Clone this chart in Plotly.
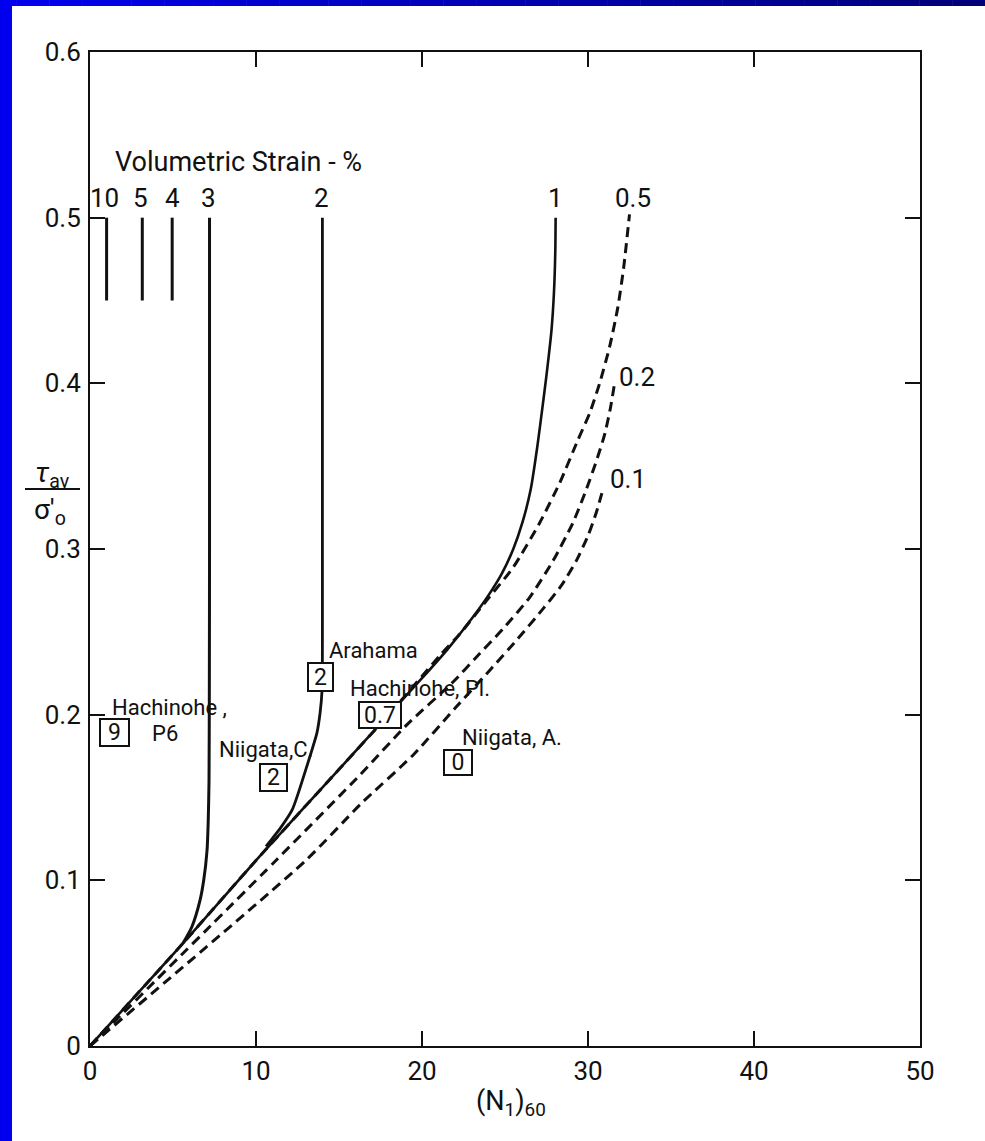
import plotly.graph_objects as go

# ---------------- data ----------------
# x axis: (N1)60, y axis: tau_av / sigma'_o
x_ticks = [0, 10, 20, 30, 40, 50]
x_tick_text = ["0", "10", "20", "30", "40", "50"]
y_ticks = [0, 0.1, 0.2, 0.3, 0.4, 0.5, 0.6]
y_tick_text = ["0", "0.1", "0.2", "0.3", "0.4", "0.5", "0.6"]

# short vertical strain markers (10 %, 5 %, 4 %)
short_labels = ["10", "5", "4"]
short_x = [1.0, 3.15, 4.95]
short_y = [0.45, 0.50]

# 3 % curve
c3_x = [7.2, 7.2, 7.19, 7.17, 7.12, 7.05, 6.85, 6.63, 6.14, 5.6]
c3_y = [0.50, 0.30, 0.22, 0.16, 0.135, 0.118, 0.100, 0.088, 0.072, 0.062]

# 2 % curve
c2_x = [14.0, 14.0, 14.0, 13.98, 13.86, 13.67, 13.13, 12.2, 11.5, 11.0, 10.6]
c2_y = [0.50, 0.30, 0.24, 0.215, 0.201, 0.189, 0.171, 0.143, 0.132, 0.1255, 0.1205]

# 1 % curve (solid)
c1_x = [0, 5.6, 10, 15, 18, 20, 21.5, 23.0, 24.0, 24.8, 25.5, 26.05, 26.55, 26.95, 27.25, 27.5, 27.8, 27.95, 28.03, 28.05]
c1_y = [0, 0.062, 0.112, 0.167, 0.200, 0.222, 0.239, 0.258, 0.272, 0.285, 0.300, 0.316, 0.336, 0.362, 0.385, 0.405, 0.432, 0.455, 0.480, 0.500]

# 0.5 % curve (dashed)
d05_x = [0, 5.6, 10, 15, 18, 21.1, 22.3, 23.9, 25.5, 27.1, 28.3, 29.4, 30.1, 30.7, 31.3, 31.8, 32.15, 32.5]
d05_y = [0, 0.062, 0.112, 0.167, 0.200, 0.236, 0.249, 0.269, 0.289, 0.316, 0.340, 0.366, 0.382, 0.400, 0.422, 0.446, 0.470, 0.502]

# 0.2 % curve (dashed)
d02_x = [0, 11.2, 16.3, 19.1, 21.9, 23.3, 24.9, 26.5, 27.9, 29.1, 29.9, 30.5, 31.0, 31.35, 31.6]
d02_y = [0, 0.112, 0.164, 0.194, 0.220, 0.235, 0.252, 0.271, 0.293, 0.316, 0.336, 0.353, 0.369, 0.385, 0.400]

# 0.1 % curve (dashed)
d01_x = [0, 13.0, 16.3, 19.5, 22.0, 24.1, 25.7, 27.3, 28.4, 29.3, 30.0, 30.5, 30.9]
d01_y = [0, 0.112, 0.146, 0.176, 0.204, 0.227, 0.245, 0.264, 0.278, 0.293, 0.308, 0.322, 0.336]

# curve labels (text, x, y)
curve_label_text = ["10", "5", "4", "3", "2", "1", "0.5", "0.2", "0.1"]
curve_label_x = [0.9, 3.05, 4.95, 7.15, 13.95, 28.05, 32.7, 31.75, 31.2]
curve_label_y = [0.512, 0.512, 0.512, 0.512, 0.512, 0.512, 0.512, 0.404, 0.342]
curve_label_anchor = ["center"] * 7 + ["left", "left"]

# case-history sites: boxed value, box position, site name and its position
site_values = ["9", "2", "2", "0.7", "0"]
site_box_x = [1.48, 11.08, 13.86, 17.47, 22.17]
site_box_y = [0.189, 0.162, 0.223, 0.200, 0.171]
site_names = ["Hachinohe ,", "Niigata,C.", "Arahama", "Hachinohe, Pl.", "Niigata, A."]
site_name_x = [1.2, 7.65, 14.28, 15.54, 22.3]
site_name_y = [0.2046, 0.1787, 0.239, 0.216, 0.1865]
extra_text = ["P6"]
extra_x = [3.6]
extra_y = [0.1885]

title_text = "Volumetric Strain - %"
title_x = 1.39
title_y = 0.5336

# ---------------- figure ----------------
FONT = "Roboto"
INK = "#111111"

fig = go.Figure()

for i, xv in enumerate(short_x):
    fig.add_trace(go.Scatter(x=[xv, xv], y=short_y, mode="lines",
                             line=dict(color=INK, width=3), hoverinfo="skip"))

def add_curve(xs, ys, dash=None, width=2.6):
    fig.add_trace(go.Scatter(x=xs, y=ys, mode="lines",
                             line=dict(color=INK, width=width, dash=dash,
                                       shape="spline", smoothing=0.6),
                             hoverinfo="skip"))

add_curve(c3_x, c3_y, width=3)
add_curve(c2_x, c2_y, width=2.8)
add_curve(c1_x, c1_y, width=2.6)
add_curve(d05_x, d05_y, dash="10px,6px", width=3)
add_curve(d02_x, d02_y, dash="10px,6px", width=3)
add_curve(d01_x, d01_y, dash="10px,6px", width=3)

ann = []
ann.append(dict(x=title_x, y=title_y, xref="x", yref="y", text=title_text,
                showarrow=False, xanchor="left", yanchor="middle",
                font=dict(family=FONT, size=27, color=INK)))
for t, xv, yv, a in zip(curve_label_text, curve_label_x, curve_label_y, curve_label_anchor):
    ann.append(dict(x=xv, y=yv, xref="x", yref="y", text=t, showarrow=False,
                    xanchor=a, yanchor="middle",
                    font=dict(family=FONT, size=26, color=INK)))
box_w = [27, 25, 23, 40, 26]
box_h = [25, 25, 26, 24, 23]
for t, xv, yv, w, h in zip(site_values, site_box_x, site_box_y, box_w, box_h):
    ann.append(dict(x=xv, y=yv, xref="x", yref="y", text=t, showarrow=False,
                    xanchor="center", yanchor="middle", bgcolor="white",
                    bordercolor=INK, borderwidth=2, borderpad=0,
                    width=w, height=h, align="center", valign="middle",
                    font=dict(family=FONT, size=23, color=INK)))
for t, xv, yv in zip(site_names + extra_text, site_name_x + extra_x, site_name_y + extra_y):
    ann.append(dict(x=xv, y=yv, xref="x", yref="y", text=t, showarrow=False,
                    xanchor="left", yanchor="middle",
                    font=dict(family=FONT, size=22, color=INK)))

# axis titles (paper coordinates; plot area is 830 x 994 px)
def px_x(p):
    return (p - 90) / 830.0

def px_y(p):
    return (1046 - p) / 994.0

ann.append(dict(x=px_x(52), y=px_y(474), xref="paper", yref="paper",
                text="<i>τ</i><sub>av</sub>", showarrow=False,
                xanchor="center", yanchor="middle",
                font=dict(family=FONT, size=28, color=INK)))
ann.append(dict(x=px_x(50), y=px_y(511), xref="paper", yref="paper",
                text="σ′<sub>o</sub>", showarrow=False,
                xanchor="center", yanchor="middle",
                font=dict(family=FONT, size=28, color=INK)))
ann.append(dict(x=px_x(511), y=px_y(1103), xref="paper", yref="paper",
                text="(N<sub>1</sub>)<sub>60</sub>", showarrow=False,
                xanchor="center", yanchor="middle",
                font=dict(family=FONT, size=27, color=INK)))

shapes = []
shapes.append(dict(type="line", xref="paper", yref="paper",
                   x0=px_x(25), x1=px_x(80), y0=px_y(489), y1=px_y(489),
                   line=dict(color=INK, width=2)))

# blue slide frame: left strip and top gradient strip
shapes.append(dict(type="rect", xref="paper", yref="paper", layer="above",
                   x0=px_x(0), x1=px_x(12), y0=px_y(1141), y1=px_y(0),
                   line=dict(width=0), fillcolor="#0000EE"))
nseg = 60
for k in range(nseg):
    f = k / (nseg - 1)
    b = int(round(0xEE + (0x78 - 0xEE) * f))
    shapes.append(dict(type="rect", xref="paper", yref="paper", layer="above",
                       x0=px_x(985 * k / nseg), x1=px_x(985 * (k + 1) / nseg + 0.5),
                       y0=px_y(6), y1=px_y(0), line=dict(width=0),
                       fillcolor="rgb(0,0,%d)" % b))

fig.update_layout(
    width=985, height=1141,
    margin=dict(l=90, r=65, t=52, b=95),
    paper_bgcolor="white", plot_bgcolor="white",
    showlegend=False,
    annotations=ann, shapes=shapes,
    font=dict(family=FONT, color=INK),
)
fig.update_xaxes(range=[0, 50], tickvals=x_ticks, ticktext=x_tick_text,
                 showgrid=False, zeroline=False, showline=True, linewidth=2,
                 linecolor=INK, mirror="allticks", ticks="inside", ticklen=15,
                 tickwidth=2, tickcolor=INK, ticklabelstandoff=1,
                 tickfont=dict(family=FONT, size=26, color=INK))
fig.update_yaxes(range=[0, 0.6], tickvals=y_ticks, ticktext=y_tick_text,
                 showgrid=False, zeroline=False, showline=True, linewidth=2,
                 linecolor=INK, mirror="allticks", ticks="inside", ticklen=15,
                 tickwidth=2, tickcolor=INK, ticklabelstandoff=2,
                 tickfont=dict(family=FONT, size=26, color=INK))

fig.write_html("out.html", config={"displayModeBar": False},
               post_script="document.body.style.margin='0';document.body.style.padding='0';document.body.style.overflow='hidden';")
